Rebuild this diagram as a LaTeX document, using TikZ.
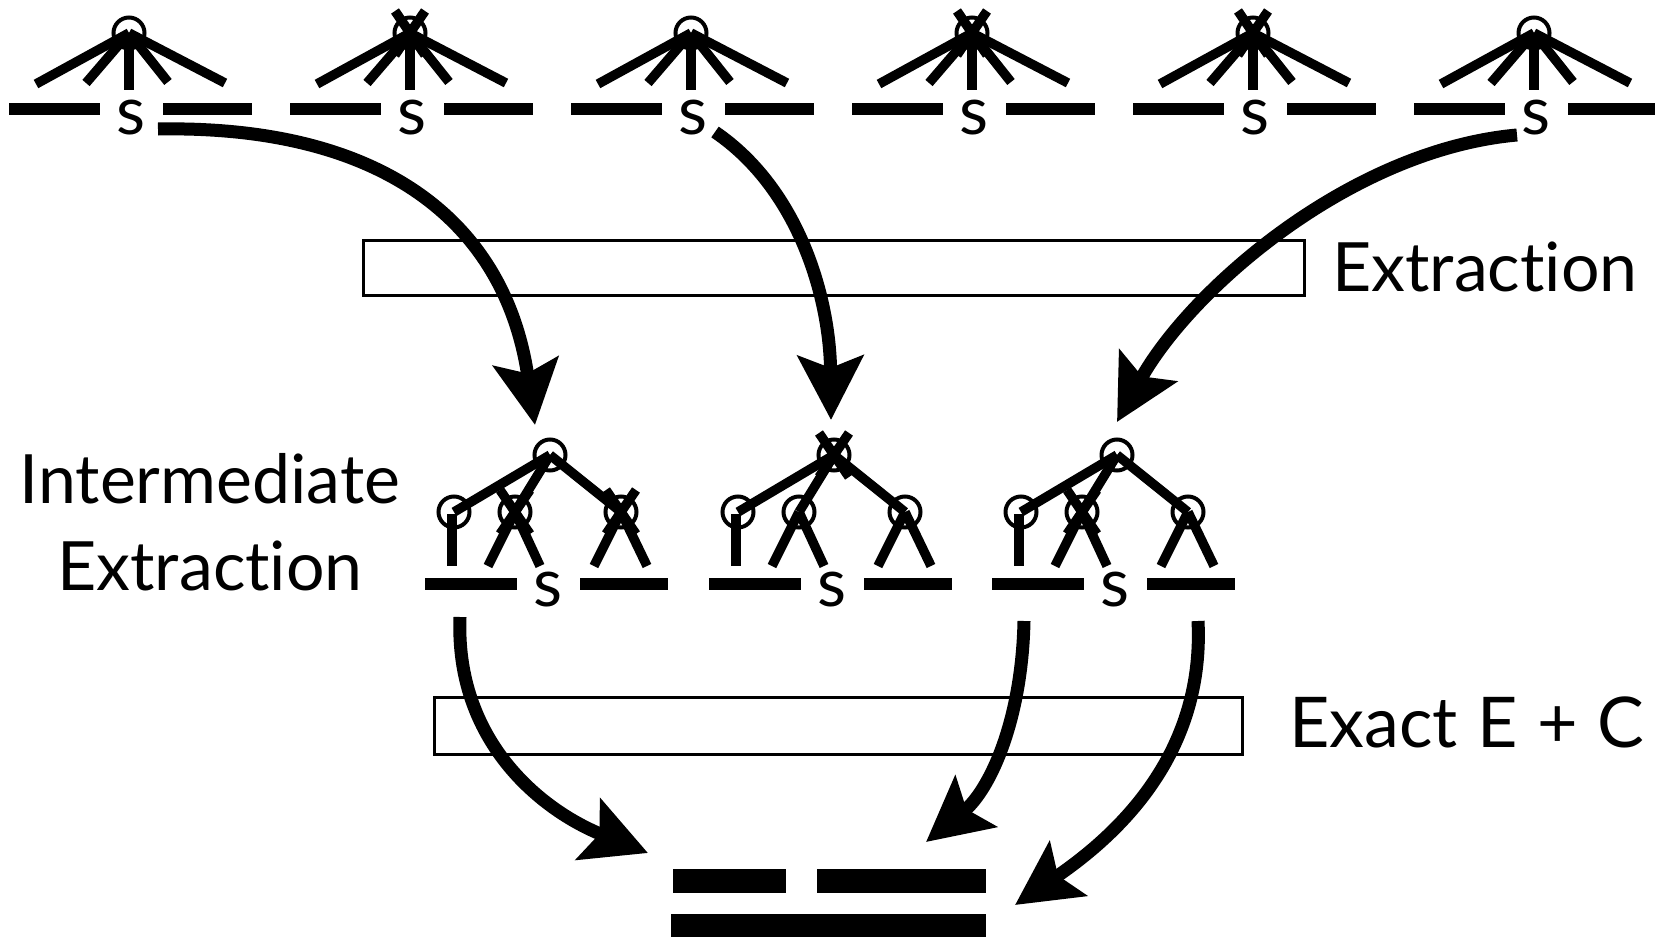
\documentclass[tikz,border=0pt]{standalone}
\usepackage{fontspec}
\setmainfont{Lato}[Ligatures=NoCommon]
\newfontfamily\exfont{Lato}[Ligatures=NoCommon,WordSpace=1.08]
\usetikzlibrary{arrows.meta}
\begin{document}
\begin{tikzpicture}[x=1pt,y=-1pt,
  br/.style={line width=9.5pt},
  hbar/.style={line width=12pt},
  nd/.style={circle,draw,line width=4pt,minimum size=31pt,inner sep=0pt},
  lbl/.style={font=\fontsize{68}{80}\selectfont,inner sep=0pt},
  sl/.style={font=\fontsize{67}{80}\selectfont,inner sep=0pt,anchor=base},
  bx/.style={draw,line width=3pt},
  arr/.style={line width=13pt,-{Stealth[length=64pt,width=65pt,inset=12pt]}},
]
\useasboundingbox (0,0) rectangle (1655,937);

% top row trees
\foreach \i/\cx in {0/0,1/1,2/0,3/1,4/1,5/0}{
  \pgfmathsetmacro\xx{129+281*\i}
  \coordinate (t\i) at (\xx,33);
  \draw[br] (t\i) -- ++(-93,51);
  \draw[br] (t\i) -- ++(-43,50);
  \draw[br] (t\i) -- ++(0,57);
  \draw[br] (t\i) -- ++(39,49);
  \draw[br] (t\i) -- ++(96,50);
  \draw[hbar] ([shift={(-120,76)}]t\i) -- ++(91,0);
  \draw[hbar] ([shift={(34,76)}]t\i) -- ++(89,0);
  \node[sl] (s\i) at ([shift={(2,101)}]t\i) {s};
  \node[nd] (c\i) at (t\i) {};
  \ifnum\cx=1
    \draw[br] ([shift={(-15,-22)}]t\i) -- ([shift={(15,22)}]t\i);
    \draw[br] ([shift={(15,-22)}]t\i) -- ([shift={(-15,22)}]t\i);
  \fi
}

% middle row trees
\foreach \j/\rx/\ca/\cb/\cc/\cd in {0/550/0/0/1/1,1/834/1/0/0/0,2/1117/0/0/1/0}{
  \coordinate (m\j) at (\rx,455);
  \coordinate (mL\j) at ([shift={(-96,57)}]m\j);
  \coordinate (mM\j) at ([shift={(-35,57)}]m\j);
  \coordinate (mR\j) at ([shift={(71,57)}]m\j);
  \draw[br] (m\j) -- (mL\j);
  \draw[br] (m\j) -- (mM\j);
  \draw[br] (m\j) -- (mR\j);
  \draw[line width=10pt] ([shift={(-2,2)}]mL\j) -- ++(0,52);
  \draw[br] (mM\j) -- ++(-27,54);
  \draw[br] (mM\j) -- ++(25,54);
  \draw[br] (mR\j) -- ++(-27,54);
  \draw[br] (mR\j) -- ++(26,54);
  \draw[hbar] ([shift={(-125,129)}]m\j) -- ++(92,0);
  \draw[hbar] ([shift={(30,129)}]m\j) -- ++(88,0);
  \node[sl] (ms\j) at ([shift={(-2,151)}]m\j) {s};
  \node[nd] (mc\j) at (m\j) {};
  \node[nd] (mcL\j) at (mL\j) {};
  \node[nd] (mcM\j) at (mM\j) {};
  \node[nd] (mcR\j) at (mR\j) {};
  \foreach \p/\f in {m/\ca,mL/\cb,mM/\cc,mR/\cd}{
    \ifnum\f=1
      \draw[br] ([shift={(-15,-22)}]\p\j) -- ([shift={(15,22)}]\p\j);
      \draw[br] ([shift={(15,-22)}]\p\j) -- ([shift={(-15,22)}]\p\j);
    \fi
  }
}

% boxes and labels
\draw[bx] (363,240) rectangle (1304,295);
\node[lbl,anchor=base west] (lextr) at (1332,291) {Extraction};
\draw[bx] (434,697) rectangle (1242,754);
\node[inner sep=0pt,font=\exfont\fontsize{70}{80}\selectfont,anchor=base west] (lexact) at (1289,747) {Exact E + C};
\node[lbl,anchor=base] (linter) at (210,503) {Intermediate};
\node[lbl,anchor=base] (linter2) at (210,590) {Extraction};

% result bars
\fill (673,869) rectangle (786,893);
\fill (817,869) rectangle (986,893);
\fill (671,914) rectangle (986,937);

% arrows
\coordinate (a1s) at (158,129);
\coordinate (a1e) at (535,425);
\coordinate (a2s) at (715,132);
\coordinate (a2e) at (831,420);
\coordinate (a3s) at (1517,135);
\coordinate (a3e) at (1117,422);
\coordinate (a4s) at (460,617);
\coordinate (a4e) at (648,853);
\coordinate (a5s) at (1024,621);
\coordinate (a5e) at (926,842);
\coordinate (a6s) at (1198,621);
\coordinate (a6e) at (1015,905);
\draw[arr] (a1s) .. controls (380,125) and (505,220) .. (a1e);
\draw[arr] (a2s) .. controls (800,190) and (830,300) .. (a2e);
\draw[arr] (a3s) .. controls (1350,150) and (1190,290) .. (a3e);
\draw[arr] (a4s) .. controls (455,740) and (540,810) .. (a4e);
\draw[arr] (a5s) .. controls (1022,720) and (990,790) .. (a5e);
\draw[arr] (a6s) .. controls (1205,760) and (1110,840) .. (a6e);
\end{tikzpicture}
\end{document}
